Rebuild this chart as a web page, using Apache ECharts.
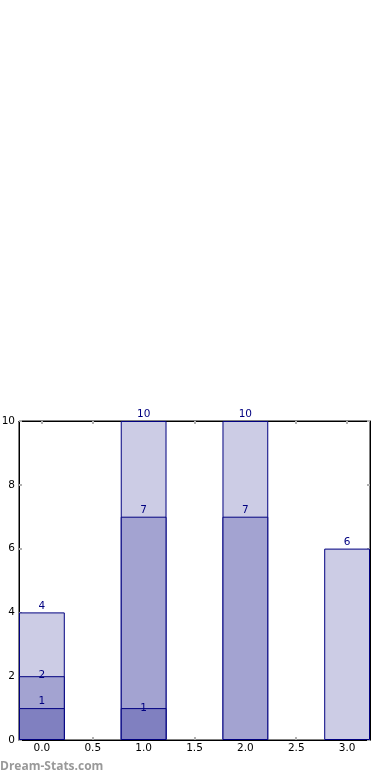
<!DOCTYPE html>
<html>
<head>
<meta charset="utf-8">
<script src="https://cdn.jsdelivr.net/npm/echarts@6/dist/echarts.min.js"></script>
<style>html,body{margin:0;padding:0;background:#fff;}#c{width:390px;height:780px;}</style>
</head>
<body>
<div id="c"></div>
<script>
var positions = [0, 1, 2, 3];
var topValues = [4, 10, 10, 6];
var midValues = [2, 7, 7, null];
var lowValues = [1, 1, null, null];
var xTicks = [0, 0.5, 1, 1.5, 2, 2.5, 3];
var yTicks = [0, 2, 4, 6, 8, 10];
var watermark = 'Dream-Stats.com';

var xMin = -0.225, xMax = 3.225, barUnits = 0.45;
var gridLeft = 19, gridRight = 20, gridTop = 421, gridBottom = 40;
var plotW = 390 - gridLeft - gridRight;
var barPx = plotW / (xMax - xMin) * barUnits;

function pairs(vals) {
  var out = [];
  for (var i = 0; i < positions.length; i++) {
    if (vals[i] !== null) out.push([positions[i], vals[i]]);
  }
  return out;
}
var navy = '#000080';
var font = 'DejaVu Sans';
function mkSeries(name, vals, color, offsets) {
  var data = pairs(vals).map(function (p) {
    var d = { value: p };
    if (offsets && offsets[p[0]] !== undefined) {
      d.label = { offset: [0, offsets[p[0]]] };
    }
    return d;
  });
  return {
    name: name, type: 'bar', data: data, barWidth: barPx, barGap: '-100%',
    itemStyle: { color: color, borderColor: navy, borderWidth: 1 },
    label: { show: true, position: 'top', distance: 1, color: navy, fontFamily: font, fontSize: 10.5,
      formatter: function (p) { return p.value[1]; } },
    emphasis: { disabled: true }, animation: false
  };
}

var chart = echarts.init(document.getElementById('c'), null, { renderer: 'canvas' });
var tickStyle = { show: true, inside: true, length: 3, lineStyle: { color: '#b0b0b0', width: 2 } };
chart.setOption({
  animation: false,
  grid: { left: gridLeft, right: gridRight, top: gridTop, bottom: gridBottom, show: true,
    outerBoundsMode: 'none', containLabel: false,
    borderColor: '#000', borderWidth: 1, backgroundColor: '#fff' },
  xAxis: [{
    type: 'value', min: xMin, max: xMax, position: 'bottom',
    axisLine: { show: true, onZero: false, lineStyle: { color: '#000' } },
    axisTick: Object.assign({ customValues: xTicks }, tickStyle),
    axisLabel: { customValues: xTicks, color: '#000', fontFamily: font, fontSize: 10.5, margin: 3,
      formatter: function (v) { return v.toFixed(1); } },
    splitLine: { show: false }
  }, {
    type: 'value', min: xMin, max: xMax, position: 'top',
    axisLine: { show: true, onZero: false, lineStyle: { color: '#000' } },
    axisTick: Object.assign({ customValues: xTicks }, tickStyle),
    axisLabel: { show: false }, splitLine: { show: false }
  }],
  yAxis: [{
    type: 'value', min: 0, max: 10, interval: 2, position: 'left',
    axisLine: { show: true, onZero: false, lineStyle: { color: '#000' } },
    axisTick: tickStyle,
    axisLabel: { color: '#000', fontFamily: font, fontSize: 10.5, margin: 4 },
    splitLine: { show: false }
  }, {
    type: 'value', min: 0, max: 10, interval: 2, position: 'right',
    axisLine: { show: true, onZero: false, lineStyle: { color: '#000' } },
    axisTick: tickStyle, axisLabel: { show: false }, splitLine: { show: false }
  }],
  series: [
    mkSeries('top', topValues, 'rgb(204,204,229)'),
    mkSeries('mid', midValues, 'rgb(163,163,209)', { 0: 6 }),
    mkSeries('low', lowValues, 'rgb(128,128,192)', { 1: 7 })
  ],
  graphic: [{
    type: 'text', left: 0, top: 761,
    style: { text: watermark, fill: '#999999', font: 'bold 12px "Open Sans"' }
  }]
});
</script>
</body>
</html>
